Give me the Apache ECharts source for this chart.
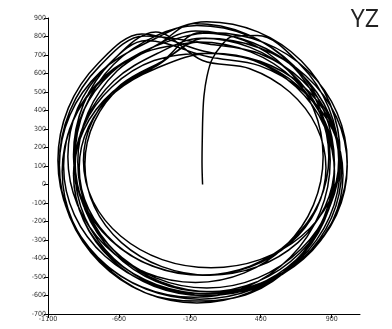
<!DOCTYPE html>
<html><head><meta charset="utf-8">
<script src="https://cdn.jsdelivr.net/npm/echarts@6/dist/echarts.min.js"></script>
<style>html,body{margin:0;padding:0;background:#fff}#c{width:392px;height:329px}</style>
</head><body><div id="c"></div>
<script>
const titleText = 'YZ';
const xTicks = [-1100, -600, -100, 400, 900];
const startX = [-10, -14, -12, -8, 0, 20, 55, 125, 200];
const startY = [0, 120, 250, 380, 480, 580, 673, 754, 800];
const loopX = [
  [376, 678, 879, 950, 879, 678, 376, 20, -336, -638, -839, -910, -839, -638, -336],
  [-50, 322, 636, 846, 920, 846, 636, 322, -50, -422, -736, -946, -1020, -946, -736, -422],
  [30, 390, 695, 899, 970, 899, 695, 390, 30, -330, -635, -839, -910, -839, -635, -330],
  [-20, 325, 616, 812, 880, 812, 616, 325, -20, -365, -656, -852, -920, -852, -656, -365],
  [60, 424, 732, 938, 1010, 938, 732, 424, 60, -304, -612, -818, -890, -818, -612, -304],
  [-70, 298, 609, 817, 890, 817, 609, 298, -70, -438, -749, -957, -1030, -957, -749, -438],
  [0, 352, 650, 850, 920, 850, 650, 352, 0, -352, -650, -850, -920, -850, -650, -352],
  [40, 377, 662, 853, 920, 853, 662, 377, 40, -297, -582, -773, -840, -773, -582, -297],
  [-30, 349, 670, 885, 960, 885, 670, 349, -30, -409, -730, -945, -1020, -945, -730, -409],
  [20, 380, 685, 889, 960, 889, 685, 380, 20, -340, -645, -849, -920, -849, -645, -340],
  [-10, 323, 605, 794, 860, 794, 605, 323, -10, -343, -625, -814, -880, -814, -625, -343],
  [50, 395, 686, 882, 950, 882, 686, 395, 50, -295, -586, -782, -850, -782, -586, -295],
  [10, 393, 717, 934, 1010, 934, 717, 393, 10, -373, -697, -914, -990, -914, -697, -373],
  [-60, 285, 576, 772, 840, 772, 576, 285, -60, -405, -696, -892, -960, -892, -696, -405],
  [30, 394, 702, 908, 980, 908, 702, 394, 30, -334, -642, -848, -920, -848, -642, -334],
  [-40, 328, 639, 847, 920, 847, 639, 328, -40, -408, -719, -927, -1000, -927, -719, -408, -40]
];
const loopY = [
  [805, 649, 416, 140, -136, -369, -525, -580, -525, -369, -136, 140, 416, 649, 805],
  [860, 803, 640, 397, 110, -177, -420, -583, -640, -583, -420, -177, 110, 397, 640, 803],
  [760, 708, 561, 340, 80, -180, -401, -548, -600, -548, -401, -180, 80, 340, 561, 708],
  [790, 741, 602, 395, 150, -95, -302, -441, -490, -441, -302, -95, 150, 395, 602, 741],
  [820, 767, 615, 388, 120, -148, -375, -527, -580, -527, -375, -148, 120, 388, 615, 767],
  [870, 814, 653, 413, 130, -153, -393, -554, -610, -554, -393, -153, 130, 413, 653, 814],
  [720, 670, 527, 313, 60, -193, -407, -550, -600, -550, -407, -193, 60, 313, 527, 670],
  [710, 664, 534, 340, 110, -120, -314, -444, -490, -444, -314, -120, 110, 340, 534, 664],
  [820, 765, 609, 376, 100, -176, -409, -565, -620, -565, -409, -176, 100, 376, 609, 765],
  [880, 825, 669, 436, 160, -116, -349, -505, -560, -505, -349, -116, 160, 436, 669, 825],
  [670, 626, 500, 312, 90, -132, -320, -446, -490, -446, -320, -132, 90, 312, 500, 626],
  [710, 666, 540, 352, 130, -92, -280, -406, -450, -406, -280, -92, 130, 352, 540, 666],
  [790, 738, 588, 364, 100, -164, -388, -538, -590, -538, -388, -164, 100, 364, 588, 738],
  [830, 778, 631, 410, 150, -110, -331, -478, -530, -478, -331, -110, 150, 410, 631, 778],
  [690, 641, 502, 295, 50, -195, -402, -541, -590, -541, -402, -195, 50, 295, 502, 641],
  [770, 717, 565, 338, 70, -198, -425, -587, -630, -587, -425, -198, 70, 338, 565, 717, 770]
];

const path = [];
for (let i = 0; i < startX.length; i++) path.push([startX[i], startY[i]]);
for (let k = 0; k < loopX.length; k++)
  for (let i = 0; i < loopX[k].length; i++) path.push([loopX[k][i], loopY[k][i]]);

const chart = echarts.init(document.getElementById('c'), null, {renderer: 'canvas'});
const lab = {fontSize: 7, color: '#333', fontFamily: 'DejaVu Sans Condensed, DejaVu Sans, sans-serif',
  formatter: function (v) { return String(v); }};
chart.setOption({
  animation: false,
  backgroundColor: '#fff',
  title: {text: titleText, right: 8, top: 2,
    textStyle: {fontSize: 25, fontWeight: 'normal', color: '#222', fontFamily: 'Open Sans, sans-serif'}},
  grid: {left: 48, right: 32, top: 18, bottom: 15, containLabel: false},
  xAxis: {
    type: 'value', min: -1100, max: 1100,
    axisLine: {onZero: false, lineStyle: {color: '#000', width: 1}},
    axisTick: {show: true, length: 4, customValues: xTicks, lineStyle: {color: '#000'}},
    axisLabel: Object.assign({customValues: xTicks, margin: 2}, lab),
    splitLine: {show: false}
  },
  yAxis: {
    type: 'value', min: -700, max: 900, interval: 100,
    axisLine: {show: true, onZero: false, lineStyle: {color: '#000', width: 1}},
    axisTick: {show: true, length: 4, lineStyle: {color: '#000'}},
    axisLabel: Object.assign({margin: 2}, lab),
    splitLine: {show: false}
  },
  series: [{
    type: 'line', data: path, smooth: 0.35, showSymbol: false,
    lineStyle: {color: '#000', width: 1.5}
  }]
});
</script></body></html>
